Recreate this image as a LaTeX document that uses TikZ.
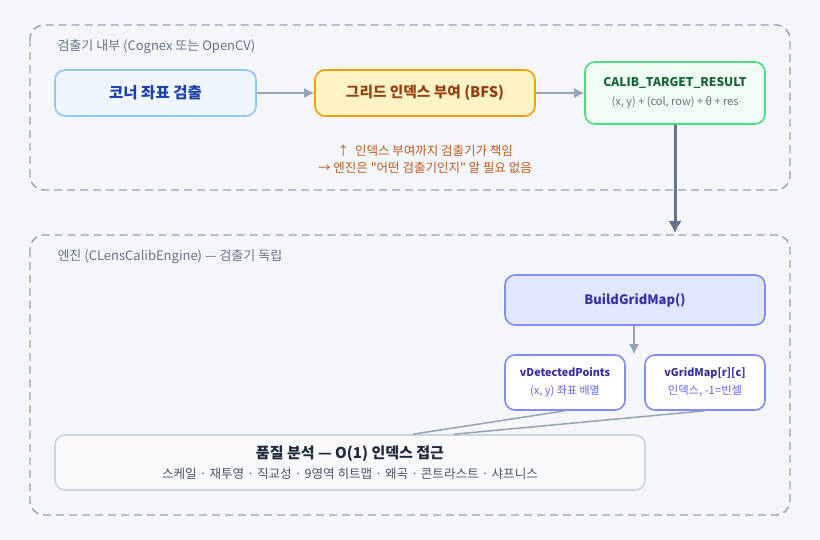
\documentclass[tikz,border=0pt]{standalone}
\usepackage{fontspec}
\setmainfont{Noto Sans CJK KR}[Ligatures=TeXOff]
\usetikzlibrary{arrows.meta,calc}

\definecolor{bgcol}{HTML}{F5F6FA}
\definecolor{groupline}{HTML}{94A3B8}
\definecolor{grouptext}{HTML}{64748B}
\definecolor{cornerfill}{HTML}{EFF6FF}
\definecolor{cornerline}{HTML}{93C5FD}
\definecolor{cornertext}{HTML}{1E40AF}
\definecolor{gridfill}{HTML}{FEF3C7}
\definecolor{gridline}{HTML}{F59E0B}
\definecolor{gridtext}{HTML}{92400E}
\definecolor{resfill}{HTML}{F0FDF4}
\definecolor{resline}{HTML}{4ADE80}
\definecolor{restext}{HTML}{166534}
\definecolor{subtext}{HTML}{6B7280}
\definecolor{buildfill}{HTML}{E0E7FF}
\definecolor{buildline}{HTML}{818CF8}
\definecolor{buildtext}{HTML}{3730A3}
\definecolor{vsub}{HTML}{6366F1}
\definecolor{qualfill}{HTML}{F9FAFC}
\definecolor{qualline}{HTML}{CBD5E1}
\definecolor{qualtext}{HTML}{1E293B}
\definecolor{qualsub}{HTML}{475569}
\definecolor{notetext}{HTML}{C05A1C}
\definecolor{bigarrow}{HTML}{64748B}

\tikzset{
  box/.style={rectangle, rounded corners=10pt, line width=1.6pt, align=center, inner sep=0pt},
  group/.style={draw=groupline, line width=1.4pt, dash pattern=on 8pt off 5pt, rounded corners=14pt},
  grouplabel/.style={anchor=west, text=grouptext, font=\fontsize{13}{15}\selectfont},
  flow/.style={draw=groupline, line width=1.6pt, -{Latex[length=10pt,width=10pt]}},
  feed/.style={draw=groupline, line width=1.5pt}
}

\begin{document}
\begin{tikzpicture}[x=1pt, y=-1pt]
    % page and background
    \fill[bgcol] (0,0) rectangle (820,540);
    \useasboundingbox (0,0) rectangle (820,540);

    % detector side
    \draw[group] (30,25) rectangle (790,190);
    \node[grouplabel] (detlabel) at (54,47) {검출기 내부 (Cognex 또는 OpenCV)};

    \node[box, draw=cornerline, fill=cornerfill, minimum width=201pt, minimum height=46pt,
          text=cornertext, font=\fontsize{15.5}{17}\selectfont\bfseries] (corner) at (155.5,93) {코너 좌표 검출};
    \node[box, draw=gridline, fill=gridfill, minimum width=220pt, minimum height=46pt,
          text=gridtext, font=\fontsize{14.7}{17}\selectfont\bfseries] (bfs) at (425,93) {그리드 인덱스 부여 (BFS)};
    \node[box, draw=resline, fill=resfill, minimum width=180pt, minimum height=62pt] (result) at (675,93)
          {\textcolor{restext}{\fontsize{12}{14}\selectfont\bfseries CALIB\_TARGET\_RESULT}\\[7pt]
           \textcolor{subtext}{\fontsize{11}{13}\selectfont (x, y) + (col, row) + θ + res}};

    \draw[flow] (corner) -- (bfs);
    \draw[flow] (bfs) -- (result);

    % who is responsible for what
    \node[text=notetext, font=\fontsize{12.5}{17}\selectfont, align=center] (note) at (425,159)
          {↑\ \ 인덱스 부여까지 검출기가 책임\\→ 엔진은 "어떤 검출기인지" 알 필요 없음};

    % engine side
    \draw[group] (30,235) rectangle (790,515);
    \node[grouplabel] (englabel) at (54,257) {엔진 (CLensCalibEngine) — 검출기 독립};

    \node[box, draw=buildline, fill=buildfill, minimum width=260pt, minimum height=50pt,
          text=buildtext, font=\fontsize{13}{15}\selectfont\bfseries] (build) at (635,300) {BuildGridMap()};
    \node[box, draw=buildline, fill=white, minimum width=120pt, minimum height=55pt] (points) at (565,382.5)
          {\textcolor{buildtext}{\fontsize{10.8}{13}\selectfont\bfseries vDetectedPoints}\\[6pt]
           \textcolor{vsub}{\fontsize{11}{13}\selectfont (x, y) 좌표 배열}};
    \node[box, draw=buildline, fill=white, minimum width=120pt, minimum height=55pt] (gridmap) at (705,382.5)
          {\textcolor{buildtext}{\fontsize{10.8}{13}\selectfont\bfseries vGridMap[r][c]}\\[6pt]
           \textcolor{vsub}{\fontsize{11.3}{13}\selectfont 인덱스, -1=빈셀}};

    \node[box, draw=qualline, fill=qualfill, minimum width=590pt, minimum height=55pt] (quality) at (350,462.5)
          {\textcolor{qualtext}{\fontsize{15}{17}\selectfont\bfseries 품질 분석 — O(1) 인덱스 접근}\\[5pt]
           \textcolor{qualsub}{\fontsize{12.6}{14}\selectfont 스케일 · 재투영 · 직교성 · 9영역 히트맵 · 왜곡 · 콘트라스트 · 샤프니스}};

    \coordinate (qa) at ($(quality.north)+(63,0)$);
    \coordinate (qb) at ($(quality.north)+(104,0)$);

    \draw[flow] (build.south -| 634,0) -- (points.north -| 634,0);
    \draw[feed] (points.south) -- (qa);
    \draw[feed] (gridmap.south) -- (qb);

    % result handed to the engine
    \draw[draw=bigarrow, line width=3pt, -{Latex[length=12pt,width=14pt]}] (result.south) -- ++(0,108);
\end{tikzpicture}
\end{document}
